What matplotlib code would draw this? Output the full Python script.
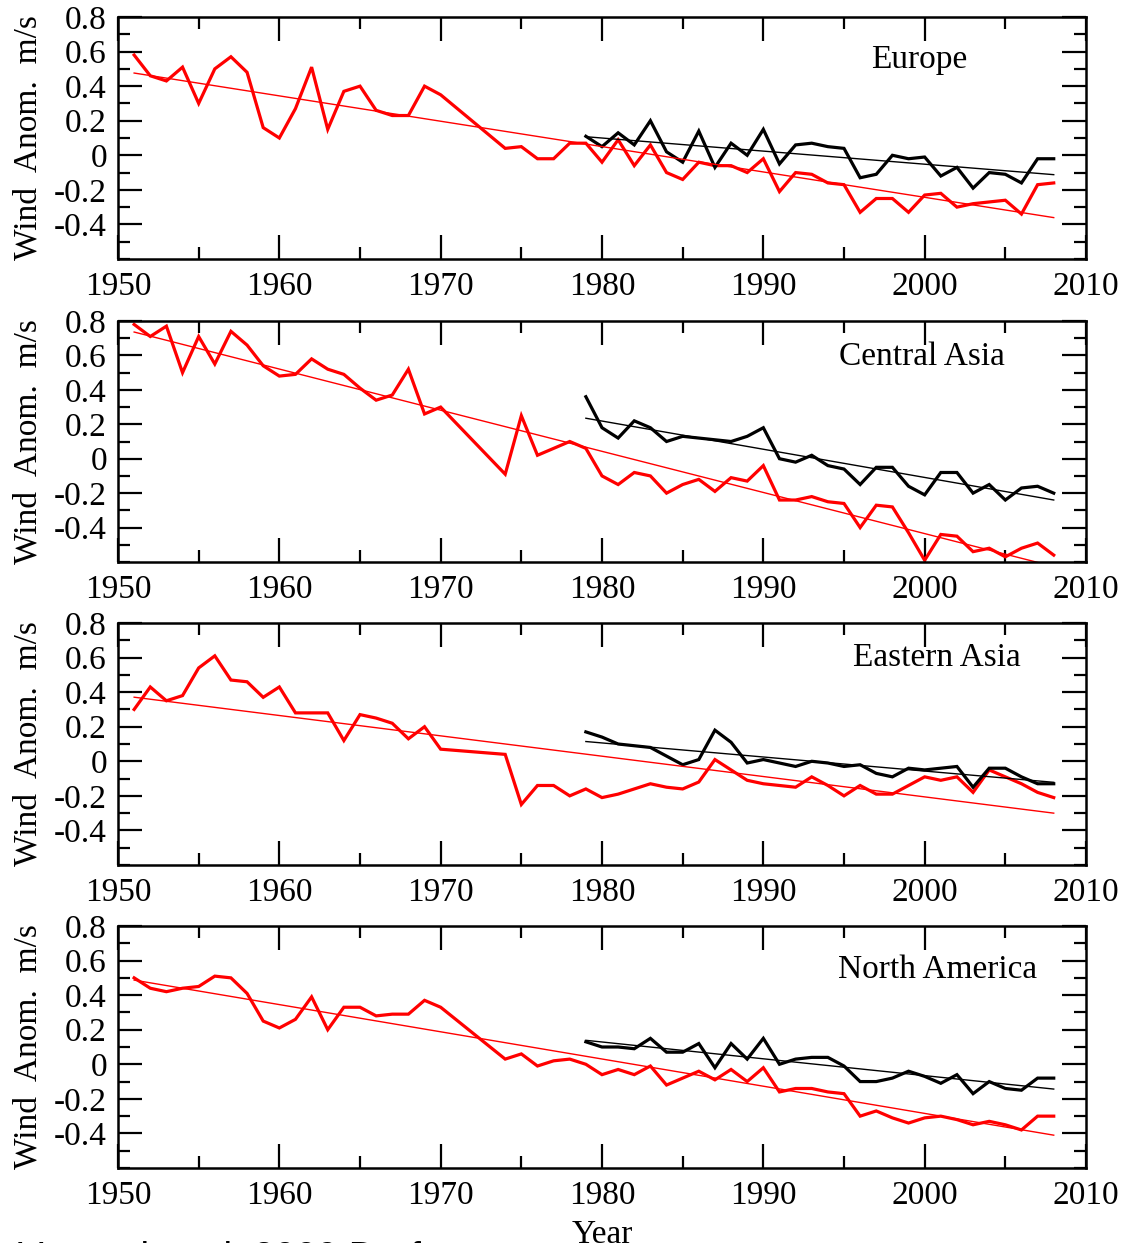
import numpy as np
import matplotlib
matplotlib.use('Agg')
import matplotlib.pyplot as plt
from matplotlib.ticker import MultipleLocator, FixedLocator

plt.rcParams['font.family'] = ['Liberation Serif', 'DejaVu Serif']
plt.rcParams['axes.unicode_minus'] = False

# years with data (1971-1973 are missing in the long series)
red_years = list(range(1951, 1971)) + list(range(1974, 2009))
black_years = list(range(1979, 2009))

regions = ['Europe', 'Central Asia', 'Eastern Asia', 'North America']

europe_red = [0.58, 0.46, 0.43, 0.51, 0.30, 0.50, 0.57, 0.48, 0.16, 0.10,
              0.27, 0.51, 0.15, 0.37, 0.40, 0.26, 0.23, 0.23, 0.40, 0.35,
              0.04, 0.05, -0.02, -0.02, 0.07, 0.07, -0.04,
              0.09, -0.06, 0.06, -0.10, -0.14, -0.04, -0.06, -0.06, -0.10, -0.02,
              -0.21, -0.10, -0.11, -0.16, -0.17, -0.33, -0.25, -0.25, -0.33, -0.23,
              -0.22, -0.30, -0.28, -0.27, -0.26, -0.34, -0.17, -0.16]
europe_black = [0.11, 0.05, 0.13, 0.06, 0.20, 0.02, -0.04, 0.14, -0.07, 0.07,
                0.00, 0.15, -0.05, 0.06, 0.07, 0.05, 0.04, -0.13, -0.11, 0.00,
                -0.02, -0.01, -0.12, -0.07, -0.19, -0.10, -0.11, -0.16, -0.02, -0.02]

casia_red = [0.78, 0.71, 0.77, 0.50, 0.71, 0.55, 0.74, 0.66, 0.54, 0.48,
             0.49, 0.58, 0.52, 0.49, 0.41, 0.34, 0.37, 0.52, 0.26, 0.30,
             -0.09, 0.25, 0.02, 0.06, 0.10, 0.06, -0.10,
             -0.15, -0.08, -0.10, -0.20, -0.15, -0.12, -0.19, -0.11, -0.13, -0.04,
             -0.24, -0.24, -0.22, -0.25, -0.26, -0.40, -0.27, -0.28, -0.43, -0.59,
             -0.44, -0.45, -0.54, -0.52, -0.57, -0.52, -0.49, -0.56]
casia_black = [0.36, 0.18, 0.12, 0.22, 0.18, 0.10, 0.13, 0.12, 0.11, 0.10,
               0.13, 0.18, 0.00, -0.02, 0.02, -0.04, -0.06, -0.15, -0.05, -0.05,
               -0.16, -0.21, -0.08, -0.08, -0.20, -0.15, -0.24, -0.17, -0.16, -0.20]

easia_red = [0.30, 0.43, 0.35, 0.38, 0.54, 0.61, 0.47, 0.46, 0.37, 0.43,
             0.28, 0.28, 0.28, 0.12, 0.27, 0.25, 0.22, 0.13, 0.20, 0.07,
             0.04, -0.25, -0.14, -0.14, -0.20, -0.16, -0.21,
             -0.19, -0.16, -0.13, -0.15, -0.16, -0.12, 0.01, -0.05, -0.11, -0.13,
             -0.14, -0.15, -0.09, -0.14, -0.20, -0.14, -0.19, -0.19, -0.14, -0.09,
             -0.11, -0.09, -0.18, -0.05, -0.09, -0.13, -0.18, -0.21]
easia_black = [0.17, 0.14, 0.10, 0.09, 0.08, 0.03, -0.02, 0.01, 0.18, 0.11,
               -0.01, 0.01, -0.01, -0.03, 0.00, -0.01, -0.03, -0.02, -0.07, -0.09,
               -0.04, -0.05, -0.04, -0.03, -0.15, -0.04, -0.04, -0.09, -0.13, -0.13]

namer_red = [0.50, 0.44, 0.42, 0.44, 0.45, 0.51, 0.50, 0.41, 0.25, 0.21,
             0.26, 0.39, 0.20, 0.33, 0.33, 0.28, 0.29, 0.29, 0.37, 0.33,
             0.03, 0.06, -0.01, 0.02, 0.03, 0.00, -0.06,
             -0.03, -0.06, -0.01, -0.12, -0.08, -0.04, -0.09, -0.03, -0.10, -0.02,
             -0.16, -0.14, -0.14, -0.16, -0.17, -0.30, -0.27, -0.31, -0.34, -0.31,
             -0.30, -0.32, -0.35, -0.33, -0.35, -0.38, -0.30, -0.30]
namer_black = [0.13, 0.10, 0.10, 0.09, 0.15, 0.07, 0.07, 0.12, -0.02, 0.12,
               0.03, 0.15, 0.00, 0.03, 0.04, 0.04, -0.01, -0.10, -0.10, -0.08,
               -0.04, -0.07, -0.11, -0.06, -0.17, -0.10, -0.14, -0.15, -0.08, -0.08]

red_series = [europe_red, casia_red, easia_red, namer_red]
black_series = [europe_black, casia_black, easia_black, namer_black]

ytick_vals = [-0.4, -0.2, 0.0, 0.2, 0.4, 0.6, 0.8]
ytick_labels = ['-0.4', '-0.2', '0', '0.2', '0.4', '0.6', '0.8']
xtick_vals = [1950, 1960, 1970, 1980, 1990, 2000, 2010]

fig = plt.figure(figsize=(11.24, 12.43), dpi=100)

# panel boxes in pixels: top, bottom
boxes = [(17, 259), (321, 562), (623, 865), (926, 1168)]
label_pos = [(0.828, 0.822), (0.831, 0.851), (0.846, 0.855), (0.847, 0.818)]
W, H = 1124.0, 1243.0

for i in range(4):
    top, bot = boxes[i]
    ax = fig.add_axes([118 / W, 1 - bot / H, 968 / W, (bot - top) / H])

    ry = np.array(red_years)
    by = np.array(black_years)
    rv = np.array(red_series[i])
    bv = np.array(black_series[i])

    ax.plot(ry, rv, color='#ff0000', lw=2.3, solid_joinstyle='miter')
    ax.plot(by, bv, color='black', lw=2.3, solid_joinstyle='miter')

    # least squares trends
    pr = np.polyfit(ry, rv, 1)
    pb = np.polyfit(by, bv, 1)
    ax.plot([ry[0], ry[-1]], np.polyval(pr, [ry[0], ry[-1]]), color='#ff0000', lw=1.0)
    ax.plot([by[0], by[-1]], np.polyval(pb, [by[0], by[-1]]), color='black', lw=1.0)

    ax.set_xlim(1950, 2010)
    ax.set_ylim(-0.6, 0.8)
    ax.set_xticks(xtick_vals)
    ax.set_xticklabels([str(x) for x in xtick_vals])
    ax.xaxis.set_minor_locator(MultipleLocator(5))
    ax.yaxis.set_major_locator(FixedLocator(ytick_vals))
    ax.set_yticklabels(ytick_labels)
    ax.yaxis.set_minor_locator(MultipleLocator(0.1))

    ax.tick_params(which='both', direction='in', top=True, right=True,
                   labelsize=24, width=1.6)
    ax.tick_params(which='major', length=17)
    ax.tick_params(which='minor', length=8.5)
    ax.tick_params(axis='x', pad=9)
    ax.tick_params(axis='y', pad=8)
    for s in ax.spines.values():
        s.set_linewidth(1.8)

    ax.set_ylabel('Wind  Anom.  m/s', fontsize=24)
    ax.yaxis.set_label_coords(-0.077, 0.5)

    ax.text(label_pos[i][0], label_pos[i][1], regions[i], transform=ax.transAxes,
            fontsize=24, ha='center', va='center')

    if i == 3:
        ax.set_xlabel('Year', fontsize=24, labelpad=6)

fig.text(18 / W, 1 - 1241 / H, 'Vautard et al. 2009 Draft', fontsize=27.5,
         family=['Liberation Sans', 'DejaVu Sans'], ha='left', va='top')

fig.savefig('out.png', dpi=100)
